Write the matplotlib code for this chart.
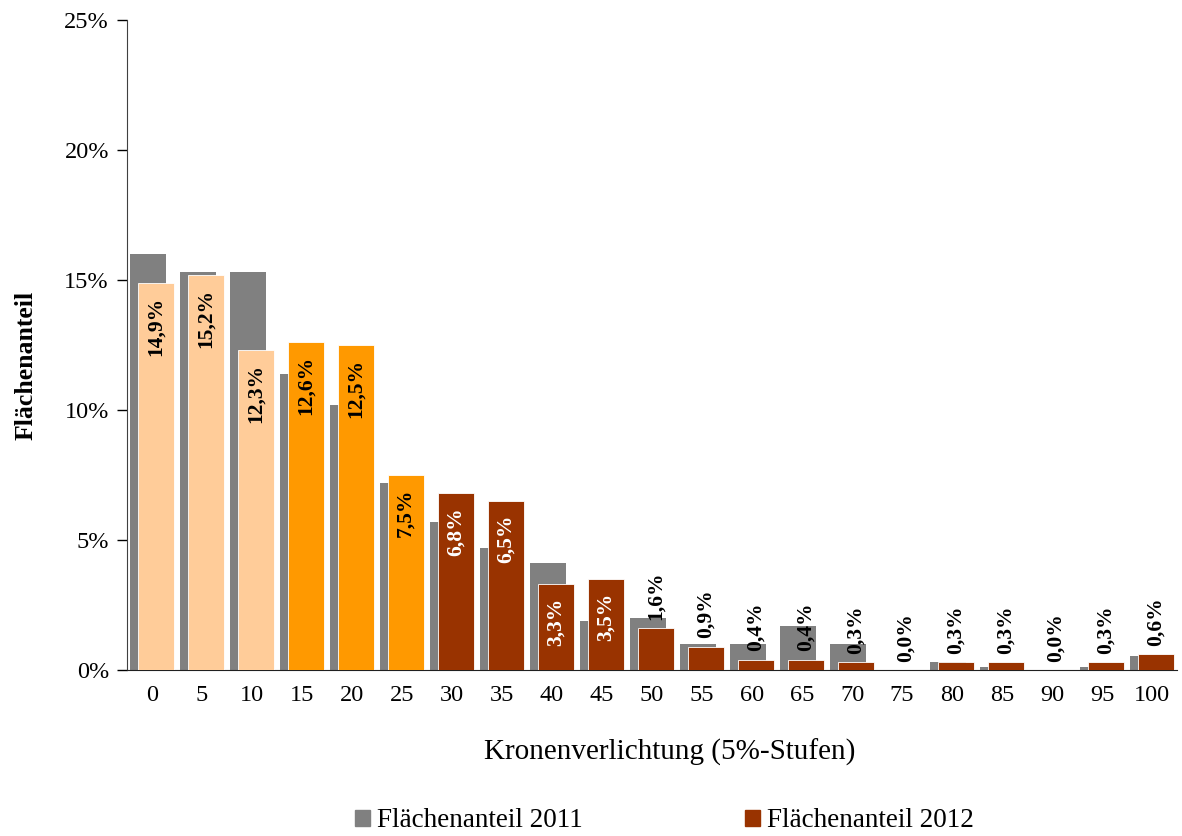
import matplotlib
matplotlib.use("Agg")
import matplotlib.pyplot as plt
from matplotlib.patches import Patch
from matplotlib.ticker import FuncFormatter

plt.rcParams['font.family'] = ['Liberation Serif', 'DejaVu Serif']

# Kronenverlichtung in 5%-Stufen
stufen = [0, 5, 10, 15, 20, 25, 30, 35, 40, 45, 50, 55, 60, 65, 70, 75, 80, 85, 90, 95, 100]
# Flächenanteil in %
anteil_2011 = [16.0, 15.3, 15.3, 11.4, 10.2, 7.2, 5.7, 4.7, 4.1, 1.9, 2.0,
               1.0, 1.0, 1.7, 1.0, 0.0, 0.3, 0.1, 0.0, 0.1, 0.55]
anteil_2012 = [14.9, 15.2, 12.3, 12.6, 12.5, 7.5, 6.8, 6.5, 3.3, 3.5, 1.6,
               0.9, 0.4, 0.4, 0.3, 0.0, 0.3, 0.3, 0.0, 0.3, 0.6]

grau = '#808080'
pfirsich = '#FFCC99'
orange = '#FF9900'
rotbraun = '#993300'
farben_2012 = [pfirsich] * 3 + [orange] * 3 + [rotbraun] * 15

fig = plt.figure(figsize=(11.82, 8.36), dpi=100)
ax = fig.add_axes([0.1074, 0.1986, 0.8884, 0.7775])

x = list(range(len(stufen)))
breite = 0.72
versatz = 0.075

ax.bar([i - versatz for i in x], anteil_2011, width=breite, color=grau, zorder=2)
ax.bar([i + versatz for i in x], anteil_2012, width=breite, color=farben_2012,
       edgecolor='white', linewidth=0.6, zorder=3)

# Beschriftung der 2012-Werte
for i, (wert, farbe) in enumerate(zip(anteil_2012, farben_2012)):
    text = f"{wert:.1f}%".replace('.', ',')
    if wert >= 2:
        ax.annotate(text, (i + versatz, wert), xytext=(0, -10), textcoords='offset points',
                    rotation=90, ha='center', va='top', fontsize=15.5, fontweight='bold',
                    color='white' if farbe == rotbraun else 'black', zorder=4)
    else:
        ax.annotate(text, (i + versatz, wert), xytext=(0, 6), textcoords='offset points',
                    rotation=90, ha='center', va='bottom', fontsize=15.5, fontweight='bold',
                    color='black', zorder=4)

ax.set_xlim(-0.5, len(stufen) - 0.5)
ax.set_ylim(0, 25)
ax.set_yticks([0, 5, 10, 15, 20, 25])
ax.yaxis.set_major_formatter(FuncFormatter(lambda v, _: f"{v:.0f}%"))
ax.set_xticks(x)
ax.set_xticklabels([str(s) for s in stufen])
ax.tick_params(axis='y', direction='out', length=7, width=1, labelsize=17.5, pad=6)
ax.tick_params(axis='x', length=0, labelsize=17.5, pad=11)

for seite in ['top', 'right']:
    ax.spines[seite].set_visible(False)
ax.spines['left'].set_color('#404040')
ax.spines['bottom'].set_color('#202020')

ax.set_xlabel('Kronenverlichtung (5%-Stufen)', fontsize=21)
ax.xaxis.set_label_coords(0.517, -0.105)
ax.set_ylabel('Flächenanteil', fontsize=18.5, fontweight='bold')
ax.yaxis.set_label_coords(-0.085, 0.469)

griffe = [Patch(color=grau, label='Flächenanteil 2011'),
          Patch(color=rotbraun, label='Flächenanteil 2012')]
fig.legend(handles=griffe, loc='center', bbox_to_anchor=(0.562, 0.018), ncol=2,
           frameon=False, fontsize=19.5, handlelength=0.55, handleheight=0.55,
           handletextpad=0.25, columnspacing=6.0)

fig.savefig('out.png', dpi=100)
